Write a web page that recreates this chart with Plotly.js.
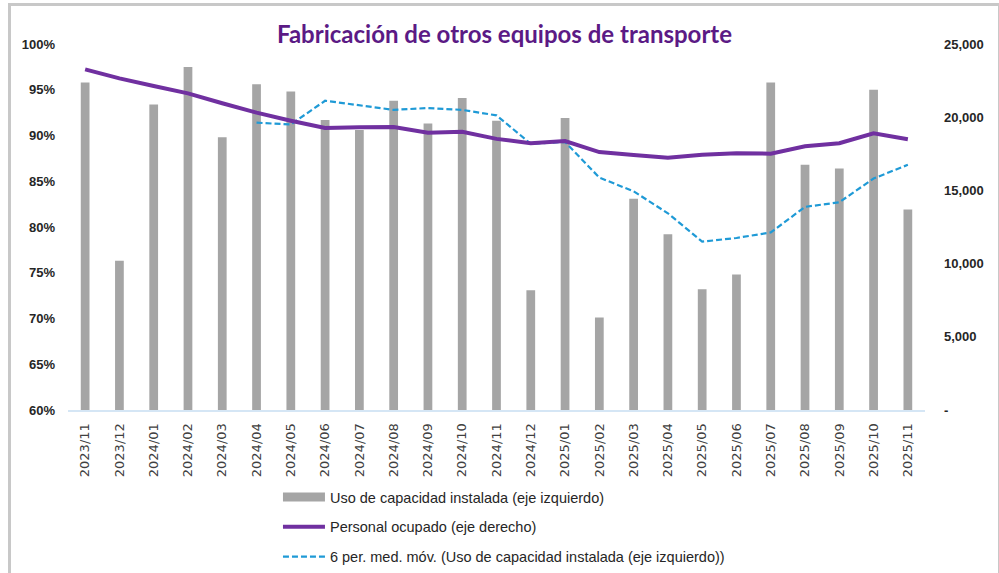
<!DOCTYPE html>
<html>
<head>
<meta charset="utf-8">
<script src="https://cdn.plot.ly/plotly-3.0.1.min.js"></script>
<style>
  html, body { margin: 0; padding: 0; background: #ffffff; }
  #wrap { position: relative; width: 999px; height: 573px; overflow: hidden; }
  #chart { position: absolute; left: 0; top: 0; width: 999px; height: 573px; }
  #frame { position: absolute; left: 8px; top: 3px; width: 987px; height: 600px;
           border: 3px solid #c8c8c8; border-bottom: none; pointer-events: none; }
</style>
</head>
<body>
<div id="wrap">
  <div id="chart"></div>
  <div id="frame"></div>
</div>
<script>
// ---- data ----
const months = ["2023/11","2023/12","2024/01","2024/02","2024/03","2024/04","2024/05","2024/06",
  "2024/07","2024/08","2024/09","2024/10","2024/11","2024/12","2025/01","2025/02","2025/03",
  "2025/04","2025/05","2025/06","2025/07","2025/08","2025/09","2025/10","2025/11"];

// Uso de capacidad instalada (%), left axis
const capacityUse = [95.8, 76.3, 93.4, 97.5, 89.8, 95.6, 94.8, 91.7, 90.6, 93.8, 91.3, 94.1, 91.6,
  73.1, 91.9, 70.1, 83.1, 79.2, 73.2, 74.8, 95.8, 86.8, 86.4, 95.0, 81.9];

// Personal ocupado, right axis
const employed = [23270, 22650, 22130, 21630, 20950, 20310, 19760, 19260, 19310, 19330, 18940,
  19010, 18520, 18220, 18370, 17620, 17420, 17230, 17440, 17530, 17510, 18010, 18220, 18900, 18490];

// 6 per. med. móv. (%), left axis (no value for first 5 months)
const movingAvg = [null, null, null, null, null, 91.4, 91.2, 93.8, 93.3, 92.8, 93.0, 92.8, 92.2,
  89.1, 89.3, 85.4, 83.9, 81.5, 78.4, 78.8, 79.4, 82.2, 82.7, 85.3, 86.8];

const leftTickVals = [60, 65, 70, 75, 80, 85, 90, 95, 100];
const leftTickText = ["60%", "65%", "70%", "75%", "80%", "85%", "90%", "95%", "100%"];
const rightTickVals = [0, 5000, 10000, 15000, 20000, 25000];
const rightTickText = ["-", "5,000", "10,000", "15,000", "20,000", "25,000"];

const names = [
  "Uso de capacidad instalada (eje izquierdo)",
  "Personal ocupado (eje derecho)",
  "6 per. med. móv. (Uso de capacidad instalada (eje izquierdo))"
];
const titleText = "Fabricación de otros equipos de transporte";

// ---- traces ----
const traces = [
  {
    type: "bar", x: months, y: capacityUse, name: names[0], yaxis: "y",
    marker: { color: "#a5a5a5" }, showlegend: false
  },
  { // legend proxy for the bars (wide grey swatch, no data points)
    type: "scatter", mode: "lines", x: [null], y: [null], name: names[0], yaxis: "y",
    line: { color: "#a5a5a5", width: 9 }, legendgroup: "a", showlegend: true
  },
  {
    type: "scatter", mode: "lines", x: months, y: employed, name: names[1], yaxis: "y2",
    line: { color: "#7030a0", width: 4 }, legendgroup: "b"
  },
  {
    type: "scatter", mode: "lines", x: months, y: movingAvg, name: names[2], yaxis: "y",
    line: { color: "#1f9ad6", width: 2.2, dash: "6px,3px" }, legendgroup: "c"
  }
];

const tickFont = { family: "Liberation Sans, Arial, sans-serif", size: 13, color: "#262626", weight: "bold" };

const layout = {
  width: 999, height: 573,
  margin: { l: 68, r: 74, t: 44, b: 163, autoexpand: false },
  paper_bgcolor: "#ffffff", plot_bgcolor: "#ffffff",
  title: {
    text: "<b>" + titleText + "</b>",
    font: { family: "Lato, Open Sans, sans-serif", size: 24, color: "#5b1a85" },
    x: 0.505, xanchor: "center", y: 0.94, yanchor: "middle"
  },
  bargap: 0.745,
  showlegend: true,
  legend: {
    orientation: "v", x: 0.245, xanchor: "left", y: -0.194, yanchor: "top",
    font: { family: "Liberation Sans, Arial, sans-serif", size: 14.5, color: "#262626" },
    tracegroupgap: 8, traceorder: "grouped", itemwidth: 42, bgcolor: "rgba(0,0,0,0)"
  },
  xaxis: {
    type: "category", categoryorder: "array", categoryarray: months,
    tickangle: -90, tickfont: { family: "DejaVu Sans, sans-serif", size: 13, color: "#404040" },
    showgrid: false, zeroline: false, showline: true, linecolor: "#d5e6f5", linewidth: 2,
    ticks: "", ticklabelstandoff: 6, range: [-0.5, 24.5], fixedrange: true
  },
  yaxis: {
    range: [60, 100], tickmode: "array", tickvals: leftTickVals, ticktext: leftTickText,
    tickfont: tickFont, showgrid: false, zeroline: false, showline: false,
    ticks: "", ticklabelstandoff: 12, fixedrange: true
  },
  yaxis2: {
    overlaying: "y", side: "right", range: [0, 25000],
    tickmode: "array", tickvals: rightTickVals, ticktext: rightTickText,
    tickfont: tickFont, showgrid: false, zeroline: false, showline: false,
    ticks: "", ticklabelstandoff: 18, fixedrange: true
  }
};

Plotly.newPlot("chart", traces, layout, { displayModeBar: false, staticPlot: true });
</script>
</body>
</html>
